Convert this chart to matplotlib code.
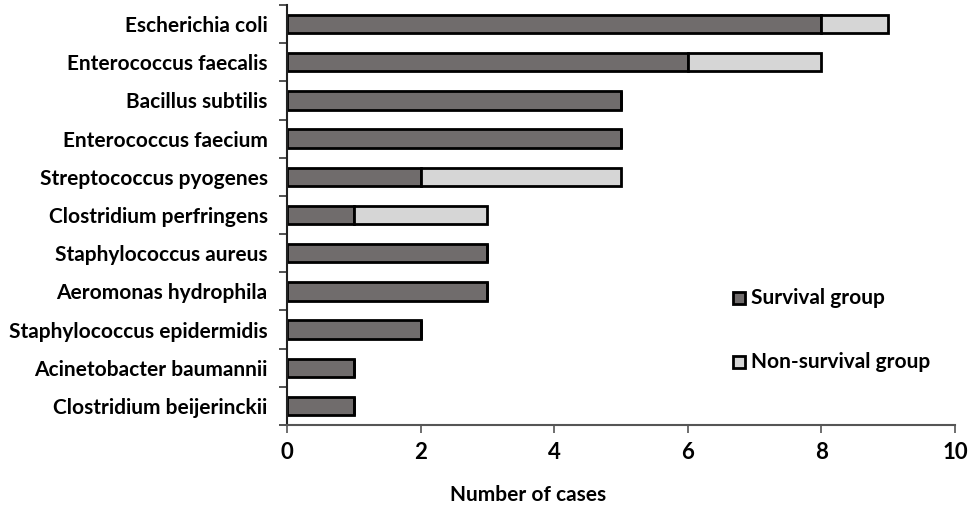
import matplotlib
matplotlib.use("Agg")
import matplotlib.pyplot as plt
from matplotlib.patches import Rectangle
import numpy as np

categories = ["Escherichia coli", "Enterococcus faecalis", "Bacillus subtilis",
              "Enterococcus faecium", "Streptococcus pyogenes", "Clostridium perfringens",
              "Staphylococcus aureus", "Aeromonas hydrophila", "Staphylococcus epidermidis",
              "Acinetobacter baumannii", "Clostridium beijerinckii"]
survival = [8, 6, 5, 5, 2, 1, 3, 3, 2, 1, 1]
non_survival = [1, 2, 0, 0, 3, 2, 0, 0, 0, 0, 0]
xticks = [0, 2, 4, 6, 8, 10]
legend_labels = ["Survival group", "Non-survival group"]

plt.rcParams['font.family'] = ['Lato', 'DejaVu Sans']
plt.rcParams['font.weight'] = 'bold'
FS = 15

W, H = 971, 508
fig = plt.figure(figsize=(W/100, H/100), dpi=100)
ax = fig.add_axes([287/W, 1 - 425/H, (955-287)/W, 420/H])

n = len(categories)
y = np.arange(n)[::-1]
dark = "#706c6c"
light = "#d6d6d6"
ax.barh(y, survival, height=0.48, color=dark, edgecolor="black", linewidth=2)
ax.barh(y, non_survival, left=survival, height=0.48, color=light, edgecolor="black", linewidth=2)

ax.set_xlim(0, 10)
ax.set_ylim(-0.5, n - 0.5)
ax.set_xticks(xticks)
ax.set_xticklabels([str(t) for t in xticks], fontsize=16, fontweight='bold')
ax.set_yticks(y)
ax.set_yticklabels(categories, fontsize=FS, fontweight='bold')
ax.set_yticks(np.arange(n + 1) - 0.5, minor=True)
ax.tick_params(axis='y', which='major', length=0, pad=14)
ax.tick_params(axis='y', which='minor', length=6, width=1.2, color='#333333', direction='out')
ax.tick_params(axis='x', which='major', length=6, width=1.2, color='#555555', direction='out', pad=6)
for s in ['top', 'right']:
    ax.spines[s].set_visible(False)
ax.spines['left'].set_color('#222222')
ax.spines['left'].set_linewidth(1.5)
ax.spines['bottom'].set_color('#555555')
ax.spines['bottom'].set_linewidth(1.5)

fig.text(528/W, 1 - 495/H, "Number of cases", fontsize=FS, fontweight='bold',
         ha='center', va='center')

colors = [dark, light]
ys = [298, 362]
for lab, c, yy in zip(legend_labels, colors, ys):
    fig.patches.append(Rectangle((733/W, 1 - (yy + 6)/H), 12/W, 12/H, facecolor=c,
                                 edgecolor='black', linewidth=2, transform=fig.transFigure))
    fig.text(751/W, 1 - yy/H, lab, fontsize=FS, fontweight='bold', ha='left', va='center')

fig.savefig("out.png", dpi=100)
